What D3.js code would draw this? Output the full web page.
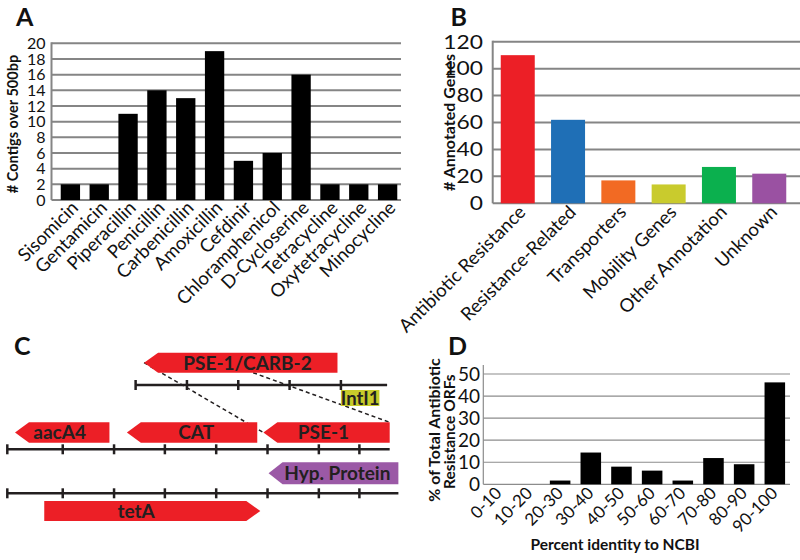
<!DOCTYPE html>
<html><head><meta charset="utf-8">
<script src="https://cdn.jsdelivr.net/npm/d3@7"></script>
<style>body{margin:0;background:#fff}svg{display:block;font-family:Lato,"Open Sans",sans-serif}</style>
</head><body><svg id="c" width="800" height="560"></svg>
<script>
// ---------- Panel A data ----------
const drugsA = ["Sisomicin","Gentamicin","Piperacillin","Penicillin","Carbenicillin","Amoxicillin","Cefdinir","Chloramphenicol","D-Cycloserine","Tetracycline","Oxytetracycline","Minocycline"];
const contigsA = [2,2,11,14,13,19,5,6,16,2,2,2];
const ticksA = [0,2,4,6,8,10,12,14,16,18,20];

// ---------- Panel B data ----------
const catsB = ["Antibiotic Resistance","Resistance-Related","Transporters","Mobility Genes","Other Annotation","Unknown"];
const genesB = [110,62,17,14,27,22];
const colorsB = ["#EC1F26","#1F6FB6","#F26A23","#C9CB2D","#0BB04E","#9A51A2"];
const ticksB = [0,20,40,60,80,100,120];

// ---------- Panel C data (positions in kb along contig) ----------
const genesC = [
  {name:"PSE-1/CARB-2", row:"top", start:2.665, end:6.433, dir:-1, label:4.68, color:"#EC1F26"},
  {name:"aacA4", row:"mid", start:0.15, end:1.99, dir:-1, label:1.02, color:"#EC1F26"},
  {name:"CAT", row:"mid", start:2.33, end:4.87, dir:-1, label:3.68, color:"#EC1F26"},
  {name:"PSE-1", row:"mid", start:4.99, end:7.45, dir:-1, label:6.16, color:"#EC1F26"},
  {name:"Hyp. Protein", row:"hyp", start:5.09, end:7.62, dir:-1, label:6.43, color:"#9B59A6"},
  {name:"tetA", row:"bot", start:0.72, end:4.93, dir:1, label:2.51, color:"#EC1F26"}
];
const boxesC = [{name:"IntI1", row:"int", start:6.5, end:7.25, color:"#C8CB2B"}];
const contigsC = [
  {row:"topLine", start:2.5, end:7.4, ticks:[2.5,3.5,4.5,5.5,6.5]},
  {row:"midLine", start:0, end:7.45, ticks:[0,1.08,2.08,3.07,4.07,5.07,6.07,6.86]},
  {row:"botLine", start:0, end:7.62, ticks:[0,1.08,2.08,3.07,4.07,5.07,6.07,6.86]}
];
const linksC = [
  {x1:2.665, r1:"top", e1:"c", x2:4.99, r2:"mid", e2:"c"},
  {x1:4.79, r1:"top", e1:"b", x2:7.45, r2:"mid", e2:"t"}
];

// ---------- Panel D data ----------
const binsD = ["0-10","10-20","20-30","30-40","40-50","50-60","60-70","70-80","80-90","90-100"];
const pctD = [0,0,1.7,14.4,8.0,6.2,1.7,11.9,9.1,46.2];
const ticksD = [0,10,20,30,40,50];

const svg = d3.select("#c");
svg.append("rect").attr("width",800).attr("height",560).attr("fill","#fff");
const txt = "#111";

function panelLabel(t,x,y){
  svg.append("text").attr("x",x).attr("y",y).attr("font-size",25).attr("font-weight",700).attr("fill","#111").text(t);
}
function rotLabels(g, cats, xs, y0, dx, dy, fs){
  g.selectAll(null).data(cats).enter().append("text")
    .attr("transform", d => `translate(${xs(d)+xs.bandwidth()/2+dx},${y0+dy}) rotate(-45)`)
    .attr("text-anchor","end").attr("font-size",fs).attr("fill",txt).text(d=>d);
}

// ================= Panel A =================
(function(){
  const g = svg.append("g");
  const x = d3.scaleBand().domain(drugsA).range([51.5,406.5]).paddingInner(0.33).paddingOuter(0.32);
  const y = d3.scaleLinear().domain([0,20]).range([200,43.3]);
  g.selectAll(null).data(ticksA).enter().append("line")
    .attr("x1",51.5).attr("x2",401).attr("y1",d=>y(d)).attr("y2",d=>y(d))
    .attr("stroke","#858585").attr("stroke-width",2);
  g.append("line").attr("x1",51.5).attr("x2",51.5).attr("y1",y(20)-1).attr("y2",y(0)).attr("stroke","#858585").attr("stroke-width",2);
  g.selectAll(null).data(contigsA).enter().append("rect")
    .attr("x",(d,i)=>x(drugsA[i])).attr("width",x.bandwidth())
    .attr("y",d=>y(d)).attr("height",d=>y(0)-y(d)).attr("fill","#000");
  g.selectAll(null).data(ticksA).enter().append("text")
    .attr("x",45.5).attr("y",d=>y(d)).attr("dy","0.36em").attr("text-anchor","end")
    .attr("font-size",16).attr("fill",txt).text(d=>d);
  rotLabels(g, drugsA, x, 200, 9, 9, 18.5);
  g.append("text").attr("transform","translate(17.5,124) rotate(-90)").attr("text-anchor","middle")
    .attr("font-size",14.5).attr("font-weight",700).attr("fill",txt).text("# Contigs over 500bp");
  panelLabel("A",16,26);
})();

// ================= Panel B =================
(function(){
  const g = svg.append("g");
  const x = d3.scaleBand().domain(catsB).range([492.7,794.3]).paddingInner(0.324).paddingOuter(0.16);
  const y = d3.scaleLinear().domain([0,120]).range([203.3,41.7]);
  g.selectAll(null).data(ticksB).enter().append("line")
    .attr("x1",492.7).attr("x2",800).attr("y1",d=>y(d)).attr("y2",d=>y(d))
    .attr("stroke","#858585").attr("stroke-width",2);
  g.append("line").attr("x1",492.7).attr("x2",492.7).attr("y1",y(120)-1).attr("y2",y(0)).attr("stroke","#858585").attr("stroke-width",2);
  g.selectAll(null).data(genesB).enter().append("rect")
    .attr("x",(d,i)=>x(catsB[i])).attr("width",x.bandwidth())
    .attr("y",d=>y(d)).attr("height",d=>y(0)-y(d)).attr("fill",(d,i)=>colorsB[i]);
  g.selectAll(null).data(ticksB).enter().append("text")
    .attr("transform",d=>`translate(483,${y(d)}) scale(1.2,1)`).attr("dy","0.36em").attr("text-anchor","end")
    .attr("font-size",19).attr("fill",txt).text(d=>d);
  rotLabels(g, catsB, x, 203.3, 9, 10, 18.5);
  g.append("text").attr("transform","translate(455,122.5) rotate(-90)").attr("text-anchor","middle")
    .attr("font-size",16).attr("font-weight",700).attr("fill",txt).text("# Annotated Genes");
  panelLabel("B",450.5,26);
})();

// ================= Panel C =================
(function(){
  const g = svg.append("g");
  const x = d3.scaleLinear().domain([0,7.62]).range([7.3,398.4]);
  const rowY = {top:362.7, int:398, mid:432.5, hyp:473.3, bot:511, topLine:385, midLine:449.3, botLine:493.3};
  const rowH = {top:20, int:16, mid:20.4, hyp:22, bot:20};
  const head = 14;
  function arrow(d){
    const x0=x(d.start), x1=x(d.end), yc=rowY[d.row], h=rowH[d.row];
    if(d.dir<0) return `M${x0},${yc}L${x0+head},${yc-h/2}L${x1},${yc-h/2}L${x1},${yc+h/2}L${x0+head},${yc+h/2}Z`;
    return `M${x0},${yc-h/2}L${x1-head},${yc-h/2}L${x1},${yc}L${x1-head},${yc+h/2}L${x0},${yc+h/2}Z`;
  }
  contigsC.forEach(c=>{
    g.append("line").attr("x1",x(c.start)).attr("x2",x(c.end)).attr("y1",rowY[c.row]).attr("y2",rowY[c.row])
      .attr("stroke","#231F20").attr("stroke-width",2.5);
    g.selectAll(null).data(c.ticks).enter().append("line")
      .attr("x1",d=>x(d)).attr("x2",d=>x(d)).attr("y1",rowY[c.row]-5).attr("y2",rowY[c.row]+5)
      .attr("stroke","#231F20").attr("stroke-width",2.5);
  });
  const ey = (r,e)=> e==="c"?rowY[r]: e==="b"? rowY[r]+rowH[r]/2 : rowY[r]-rowH[r]/2;
  g.selectAll(null).data(linksC).enter().append("line")
    .attr("x1",d=>x(d.x1)).attr("y1",d=>ey(d.r1,d.e1)).attr("x2",d=>x(d.x2)).attr("y2",d=>ey(d.r2,d.e2))
    .attr("stroke","#231F20").attr("stroke-width",1.5).attr("stroke-dasharray","4,3");
  boxesC.forEach(b=>{
    g.append("rect").attr("x",x(b.start)).attr("width",x(b.end)-x(b.start))
      .attr("y",rowY[b.row]-rowH[b.row]/2).attr("height",rowH[b.row]).attr("fill",b.color);
    g.append("text").attr("x",(x(b.start)+x(b.end))/2).attr("y",rowY[b.row]).attr("dy","0.36em")
      .attr("text-anchor","middle").attr("font-size",18.5).attr("font-weight",700).attr("fill","#231F20").text(b.name);
  });
  g.selectAll(null).data(genesC).enter().append("path").attr("d",arrow).attr("fill",d=>d.color);
  g.selectAll(null).data(genesC).enter().append("text")
    .attr("x",d=>x(d.label)).attr("y",d=>rowY[d.row]).attr("dy","0.36em").attr("text-anchor","middle")
    .attr("font-size",19).attr("font-weight",700).attr("fill","#231F20").text(d=>d.name);
  panelLabel("C",14,355);
})();

// ================= Panel D =================
(function(){
  const g = svg.append("g");
  const x = d3.scaleBand().domain(binsD).range([483.3,790.3]).paddingInner(0.33).paddingOuter(0.17);
  const y = d3.scaleLinear().domain([0,50]).range([484.3,374]);
  g.selectAll(null).data(ticksD).enter().append("line")
    .attr("x1",483.3).attr("x2",790).attr("y1",d=>y(d)).attr("y2",d=>y(d))
    .attr("stroke","#8c8c8c").attr("stroke-width",1.2);
  g.append("line").attr("x1",483.3).attr("x2",483.3).attr("y1",365).attr("y2",y(0)).attr("stroke","#8c8c8c").attr("stroke-width",1.2);
  g.selectAll(null).data(pctD).enter().append("rect")
    .attr("x",(d,i)=>x(binsD[i])).attr("width",x.bandwidth())
    .attr("y",d=>y(d)).attr("height",d=>y(0)-y(d)).attr("fill","#000");
  g.selectAll(null).data(ticksD).enter().append("text")
    .attr("x",480).attr("y",d=>y(d)).attr("dy","0.36em").attr("text-anchor","end")
    .attr("font-size",19).attr("fill",txt).text(d=>d);
  rotLabels(g, binsD, x, 484.3, 4, 10, 17);
  g.append("text").attr("transform","translate(440,430) rotate(-90)").attr("text-anchor","middle")
    .attr("font-size",16).attr("font-weight",700).attr("fill",txt).text("% of Total Antibiotic");
  g.append("text").attr("transform","translate(455,431.7) rotate(-90)").attr("text-anchor","middle")
    .attr("font-size",15.5).attr("font-weight",700).attr("fill",txt).text("Resistance ORFs");
  g.append("text").attr("x",615).attr("y",550).attr("text-anchor","middle")
    .attr("font-size",15.5).attr("font-weight",700).attr("fill",txt).text("Percent identity to NCBI");
  panelLabel("D",448,355);
})();
</script></body></html>
